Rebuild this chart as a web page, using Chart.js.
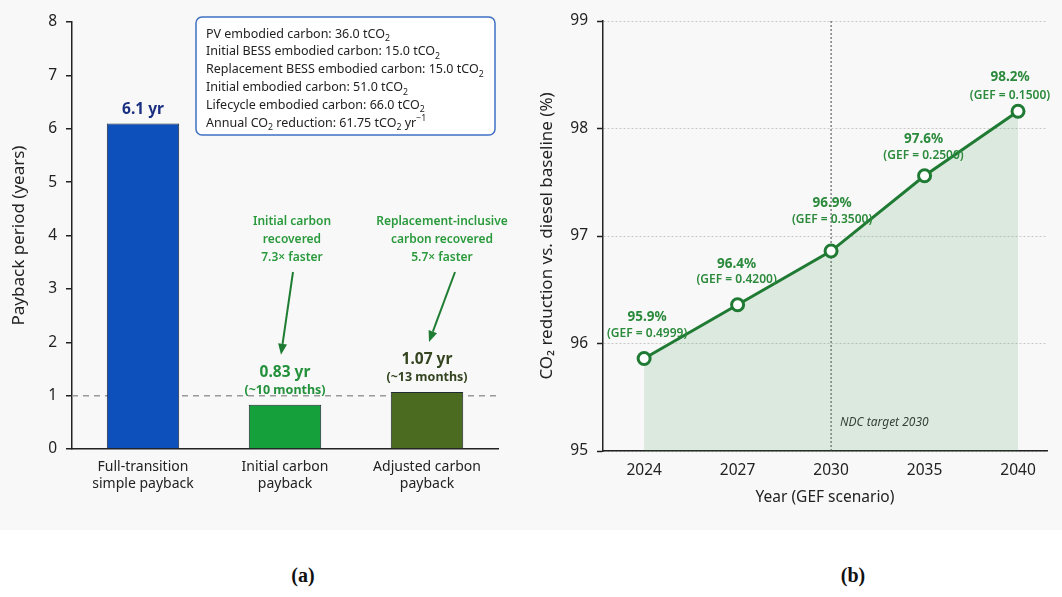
<!DOCTYPE html>
<html>
<head>
<meta charset="utf-8">
<script src="https://cdn.jsdelivr.net/npm/chart.js@4/dist/chart.umd.min.js"></script>
<style>
  html, body { margin: 0; padding: 0; background: #ffffff; }
  #stage { position: relative; width: 1062px; height: 597px; overflow: hidden; }
  #band { position: absolute; left: 0; top: 0; width: 1062px; height: 530px; background: #f8f8f8; }
  #payback { position: absolute; left: 0; top: 0; }
  #reduction { position: absolute; left: 530px; top: 0; }
  .panel-tag { position: absolute; top: 564px; width: 60px; text-align: center;
    font-family: 'Liberation Serif', 'Times New Roman', serif; font-weight: bold; font-size: 20px; color: #111; }
</style>
</head>
<body>
<div id="stage">
  <div id="band"></div>
  <canvas id="payback" width="520" height="530"></canvas>
  <canvas id="reduction" width="532" height="530"></canvas>
  <div class="panel-tag" style="left:273px;">(a)</div>
  <div class="panel-tag" style="left:823px;">(b)</div>
</div>
<script>
// ---- Panel (a): carbon payback periods ----
const paybackCategories = [
  ['Full-transition', 'simple payback'],
  ['Initial carbon', 'payback'],
  ['Adjusted carbon', 'payback']
];
const paybackYears = [6.1, 0.83, 1.07];
const paybackMonths = [null, 10, 13];
const speedupFactors = [null, 7.3, 5.7];
const speedupLead = [null, ['Initial carbon', 'recovered'], ['Replacement-inclusive', 'carbon recovered']];
const paybackYTicks = [0, 1, 2, 3, 4, 5, 6, 7, 8];
const oneYearMark = 1;

// embodied-carbon inventory shown in the info box
const inventoryNames = [
  'PV embodied carbon',
  'Initial BESS embodied carbon',
  'Replacement BESS embodied carbon',
  'Initial embodied carbon',
  'Lifecycle embodied carbon',
  'Annual CO2 reduction'
];
const inventoryValues = [36.0, 15.0, 15.0, 51.0, 66.0, 61.75];

// ---- Panel (b): CO2 reduction by GEF scenario year ----
const scenarioYears = ['2024', '2027', '2030', '2035', '2040'];
const reductionPct = [95.86, 96.36, 96.86, 97.56, 98.16];
const gefValues = [0.4999, 0.4200, 0.3500, 0.2500, 0.1500];
const reductionYTicks = [95, 96, 97, 98, 99];
const ndcTargetYear = '2030';

const FONT = "'Noto Sans', 'Open Sans', sans-serif";
Chart.defaults.font.family = FONT;
Chart.defaults.color = '#222';

// draw text with a subscript / superscript run: parts = [[text, 'n'|'sub'|'sup'], ...]
function richText(ctx, parts, x, y, size, color, weight) {
  let cx = x;
  ctx.fillStyle = color;
  ctx.textBaseline = 'alphabetic';
  ctx.textAlign = 'left';
  for (const [t, kind] of parts) {
    if (kind === 'n') {
      ctx.font = `${weight || ''} ${size}px ${FONT}`;
      ctx.fillText(t, cx, y);
    } else {
      const s = size * 0.7;
      ctx.font = `${weight || ''} ${s}px ${FONT}`;
      ctx.fillText(t, cx, kind === 'sub' ? y + size * 0.3 : y - size * 0.42);
    }
    cx += ctx.measureText(t).width;
  }
}

function arrow(ctx, x1, y1, x2, y2, color) {
  const ang = Math.atan2(y2 - y1, x2 - x1);
  const head = 11, half = 4.5;
  const bx = x2 - head * Math.cos(ang), by = y2 - head * Math.sin(ang);
  ctx.save();
  ctx.strokeStyle = color; ctx.fillStyle = color; ctx.lineWidth = 2;
  ctx.beginPath(); ctx.moveTo(x1, y1); ctx.lineTo(bx, by); ctx.stroke();
  ctx.beginPath();
  ctx.moveTo(x2, y2);
  ctx.lineTo(bx + half * Math.sin(ang), by - half * Math.cos(ang));
  ctx.lineTo(bx - half * Math.sin(ang), by + half * Math.cos(ang));
  ctx.closePath(); ctx.fill();
  ctx.restore();
}

const paybackDecor = {
  id: 'paybackDecor',
  beforeDatasetsDraw(chart) {
    const { ctx, chartArea, scales: { y } } = chart;
    const py = y.getPixelForValue(oneYearMark);
    ctx.save();
    ctx.strokeStyle = '#9a9a9a'; ctx.lineWidth = 1.5; ctx.setLineDash([6, 5]);
    ctx.beginPath(); ctx.moveTo(chartArea.left, py); ctx.lineTo(chartArea.right, py); ctx.stroke();
    ctx.restore();
  },
  afterDatasetsDraw(chart) {
    const { ctx } = chart;
    const bars = chart.getDatasetMeta(0).data;
    const valueColors = ['#1b2f82', '#23913b', '#33441f'];
    ctx.save();
    ctx.textAlign = 'center'; ctx.textBaseline = 'middle';
    bars.forEach((bar, i) => {
      const v = paybackYears[i];
      ctx.fillStyle = valueColors[i];
      if (paybackMonths[i] == null) {
        ctx.font = `bold 15.5px ${FONT}`;
        ctx.fillText(v.toFixed(1) + ' yr', bar.x, bar.y - 14);
      } else {
        ctx.font = `bold 15.5px ${FONT}`;
        ctx.fillText(v.toFixed(2) + ' yr', bar.x, bar.y - 32);
        ctx.font = `bold 12.5px ${FONT}`;
        ctx.fillText('(~' + paybackMonths[i] + ' months)', bar.x, bar.y - 14);
      }
    });
    // speed-up callouts with arrows
    const dx = [0, 7, 15];
    bars.forEach((bar, i) => {
      if (speedupFactors[i] == null) return;
      const tx = bar.x + dx[i];
      const lines = [...speedupLead[i], speedupFactors[i].toFixed(1) + '\u00d7 faster'];
      ctx.fillStyle = '#2a9a3c';
      ctx.font = `600 12px ${FONT}`;
      ctx.textAlign = 'center'; ctx.textBaseline = 'middle';
      lines.forEach((t, k) => ctx.fillText(t, tx, 222 + k * 18));
      arrow(ctx, tx + 1 + (i === 2 ? 12 : 0), 272, bar.x - 4 + (i === 2 ? 6 : 0), bar.y - 50, '#1e7d32');
    });
    // inventory box
    const bx = 196, by = 17, bw = 299, bh = 118;
    ctx.beginPath();
    ctx.roundRect(bx, by, bw, bh, 6);
    ctx.fillStyle = '#ffffff'; ctx.fill();
    ctx.strokeStyle = '#3f70c2'; ctx.lineWidth = 1.5; ctx.stroke();
    inventoryNames.forEach((name, k) => {
      const yy = 37.5 + k * 17.8;
      const val = inventoryValues[k];
      let parts;
      if (name === 'Annual CO2 reduction') {
        parts = [['Annual CO', 'n'], ['2', 'sub'], [' reduction: ' + val.toFixed(2) + ' tCO', 'n'], ['2', 'sub'], [' yr', 'n'], ['\u22121', 'sup']];
      } else {
        parts = [[name + ': ' + val.toFixed(1) + ' tCO', 'n'], ['2', 'sub']];
      }
      richText(ctx, parts, bx + 10, yy, 12.5, '#222', '');
    });
    ctx.restore();
  }
};

new Chart(document.getElementById('payback'), {
  type: 'bar',
  data: {
    labels: paybackCategories,
    datasets: [{
      data: paybackYears,
      backgroundColor: ['#0d50bb', '#15a03c', '#4b6b20'],
      borderColor: '#1f2a33',
      borderWidth: 1,
      barPercentage: 0.51,
      categoryPercentage: 1
    }]
  },
  options: {
    responsive: false, animation: false, devicePixelRatio: 1,
    layout: { padding: { left: 0, right: 22, top: 22, bottom: 0 } },
    plugins: { legend: { display: false }, tooltip: { enabled: false } },
    scales: {
      x: {
        grid: { display: false, drawTicks: false },
        border: { color: '#222', width: 1.5 },
        ticks: { color: '#222', font: { size: 14 }, padding: 10, maxRotation: 0 },
        afterFit(s) { s.height = 81; }
      },
      y: {
        min: 0, max: 8,
        afterBuildTicks(s) { s.ticks = paybackYTicks.map(v => ({ value: v })); },
        ticks: { color: '#222', font: { size: 15.5 }, padding: 9 },
        grid: { drawOnChartArea: false, tickLength: 6, color: '#222', lineWidth: 1.5 },
        border: { color: '#222', width: 1.5 },
        title: { display: true, text: 'Payback period (years)', color: '#222', font: { size: 17 }, padding: { top: 9, bottom: 0 } },
        afterFit(s) { s.width = 72; }
      }
    }
  },
  plugins: [paybackDecor]
});

const reductionDecor = {
  id: 'reductionDecor',
  beforeDatasetsDraw(chart) {
    const { ctx, chartArea, scales: { x } } = chart;
    const px = x.getPixelForValue(scenarioYears.indexOf(ndcTargetYear));
    ctx.save();
    ctx.strokeStyle = '#444'; ctx.lineWidth = 1; ctx.setLineDash([2, 2]);
    ctx.beginPath(); ctx.moveTo(px, chartArea.top); ctx.lineTo(px, chartArea.bottom); ctx.stroke();
    ctx.setLineDash([]);
    ctx.fillStyle = '#333'; ctx.font = `italic 12px ${FONT}`;
    ctx.textAlign = 'left'; ctx.textBaseline = 'middle';
    ctx.fillText('NDC target ' + ndcTargetYear, px + 9, chartArea.bottom - 28);
    ctx.restore();
  },
  afterDatasetsDraw(chart) {
    const { ctx } = chart;
    const pts = chart.getDatasetMeta(0).data;
    const off1 = [-41, -41, -48, -37, -34];
    const off2 = [-25, -25, -31, -20, -16];
    const offx = [3, -1, 1, -1, -8];
    ctx.save();
    ctx.fillStyle = '#2b8a3c';
    ctx.textAlign = 'center'; ctx.textBaseline = 'middle';
    pts.forEach((p, i) => {
      ctx.font = `bold 13.5px ${FONT}`;
      ctx.fillText(reductionPct[i].toFixed(1) + '%', p.x + offx[i], p.y + off1[i]);
      ctx.font = `600 12px ${FONT}`;
      ctx.fillText('(GEF = ' + gefValues[i].toFixed(4) + ')', p.x + offx[i], p.y + off2[i]);
    });
    ctx.restore();
  }
};

new Chart(document.getElementById('reduction'), {
  type: 'line',
  data: {
    labels: scenarioYears,
    datasets: [{
      data: reductionPct.map((v, i) => ({ x: i, y: v })),
      borderColor: '#1f7a33',
      borderWidth: 3,
      pointRadius: 6,
      pointBorderWidth: 3,
      pointBackgroundColor: '#ffffff',
      pointBorderColor: '#1f7a33',
      fill: 'start',
      backgroundColor: 'rgba(60,150,80,0.15)',
      tension: 0
    }]
  },
  options: {
    responsive: false, animation: false, devicePixelRatio: 1,
    layout: { padding: { left: 0, right: 15, top: 21, bottom: 0 } },
    plugins: { legend: { display: false }, tooltip: { enabled: false } },
    scales: {
      x: {
        type: 'linear', min: -0.44, max: 4.31,
        afterBuildTicks(s) { s.ticks = scenarioYears.map((_, i) => ({ value: i })); },
        ticks: { color: '#222', font: { size: 15.5 }, padding: 10, callback: v => scenarioYears[v] },
        grid: { display: false, drawTicks: false },
        border: { color: '#222', width: 1.5 },
        title: { display: true, text: 'Year (GEF scenario)', color: '#222', font: { size: 15.5 }, padding: { top: 0, bottom: 23 } },
        afterFit(s) { s.height = 79; }
      },
      y: {
        min: 95, max: 99,
        afterBuildTicks(s) { s.ticks = reductionYTicks.map(v => ({ value: v })); },
        ticks: { color: '#222', font: { size: 15.5 }, padding: 9 },
        grid: { color: '#c8c8c8', lineWidth: 1, tickLength: 6, tickColor: '#222', tickWidth: 1.5 },
        border: { color: '#222', width: 1.5, dash: [2, 2] },
        title: { display: true, text: 'CO\u2082 reduction vs. diesel baseline (%)', color: '#222', font: { size: 17 }, padding: { top: 7, bottom: 0 } },
        afterFit(s) { s.width = 73; }
      }
    }
  },
  plugins: [reductionDecor]
});
</script>
</body>
</html>
